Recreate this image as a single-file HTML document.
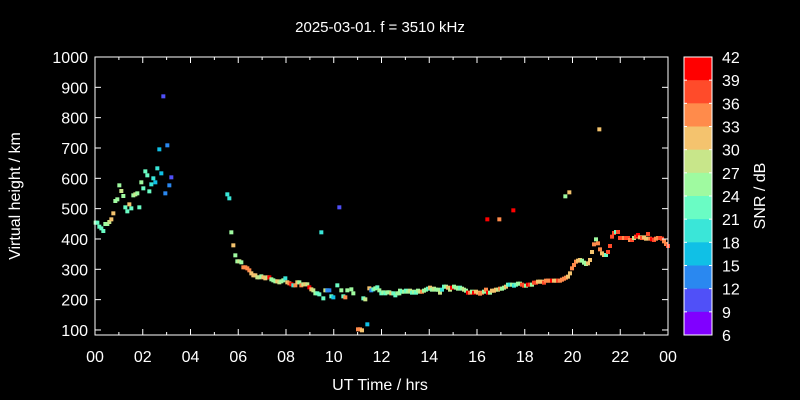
<!DOCTYPE html>
<html><head><meta charset="utf-8"><style>
html,body{margin:0;padding:0;background:#000;}
svg{display:block;font-family:"Liberation Sans",sans-serif;}
</style></head><body>
<svg id="s" width="800" height="400" xmlns="http://www.w3.org/2000/svg">
<rect width="800" height="400" fill="#000"/>
<text x="380" y="32" fill="#fff" font-size="15" text-anchor="middle">2025-03-01. f = 3510 kHz</text>
<text x="380" y="390" fill="#fff" font-size="16" text-anchor="middle">UT Time / hrs</text>
<text transform="translate(20,196) rotate(-90)" fill="#fff" font-size="16" text-anchor="middle">Virtual height / km</text>
<text transform="translate(765,196) rotate(-90)" fill="#fff" font-size="16" text-anchor="middle">SNR / dB</text>
<g id="pts"></g>
<g id="ax" stroke="#fff" stroke-width="1" fill="none"></g>
<g id="lbl" fill="#fff" font-size="16"></g>
</svg>
<script>
var NS="http://www.w3.org/2000/svg";
function el(t,a,p){var e=document.createElementNS(NS,t);for(var k in a)e.setAttribute(k,a[k]);document.getElementById(p).appendChild(e);return e;}
var L=95,R=668,T=57,B=335;
el('rect',{x:L,y:T,width:R-L,height:B-T},'ax');
for(var v=100;v<=1000;v+=100){var y=57+(1000-v)*0.3033;
 el('line',{x1:L,y1:y,x2:L+6,y2:y},'ax');el('line',{x1:R,y1:y,x2:R-6,y2:y},'ax');
 var t=el('text',{x:88,y:y+6,'text-anchor':'end'},'lbl');t.textContent=v;}
for(var h=0;h<=24;h++){var x=L+h*(R-L)/24;var len=(h%2==0)?6:3;
 el('line',{x1:x,y1:B,x2:x,y2:B-len},'ax');el('line',{x1:x,y1:T,x2:x,y2:T+len},'ax');
 if(h%2==0){var t=el('text',{x:x,y:362,'text-anchor':'middle'},'lbl');t.textContent=('0'+(h%24)).slice(-2);}}
var cols=['#ff0000','#ff4b2a','#ff8b4b','#f4c36e','#c8e68a','#9ffaa0','#6afcc4','#3ae6d8','#10c0e6','#2a88f0','#5050f8','#8000ff'];
var bh=(B-T)/12;
for(var i=0;i<12;i++){el('rect',{x:684,y:T+i*bh,width:28,height:bh+0.5,fill:cols[i],stroke:'none'},'pts');}
el('rect',{x:684,y:T,width:28,height:B-T},'ax');
for(var i=0;i<=12;i++){var y=T+i*bh;el('line',{x1:684,y1:y,x2:687,y2:y},'ax');el('line',{x1:712,y1:y,x2:709,y2:y},'ax');
 var t=el('text',{x:722,y:y+6},'lbl');t.textContent=42-3*i;}
var C={R:'#ff0000',r:'#ff4b2a',o:'#ff8b4b',b:'#f4c36e',y:'#c8e68a',g:'#9ffaa0',m:'#6afcc4',c:'#3ae6d8',s:'#10c0e6',B:'#2a88f0',p:'#5050f8',v:'#8000ff'};
var d1="287,548,g 292,548,m 298,560,m 304,565,m 310,573,m 316,552,g 322,552,g 328,546,y 334,538,b 340,520,b 346,483,g 352,478,g 358,436,g 364,453,y 370,468,g 376,502,m 382,514,m 388,493,b 394,505,m 400,466,g 406,463,y 412,460,g 418,502,m 424,427,g 430,445,m 436,394,m 442,406,m 448,454,m 454,433,c 460,415,c 466,427,s 472,385,c 478,328,s 484,400,s 490,169,p 496,460,B 502,316,B 508,436,B 514,412,p "+
"682,463,c 688,475,c 694,577,g 700,616,b 706,646,g 712,664,g 718,664,y 724,667,g 730,682,o 736,682,o 742,685,o 748,691,o 754,700,b 760,706,b 766,706,b 772,712,y 778,712,y 784,709,g 790,712,b 796,715,b 802,712,y 808,712,R 814,718,g 820,721,g 826,724,g 832,724,b 838,727,y 844,724,g 850,721,g 856,715,c 862,727,b 868,730,o 874,733,R 880,736,c 886,736,o 892,727,b 898,727,g 904,736,o 910,733,y 916,733,b 922,733,y 928,742,R 934,748,b 940,751,y 946,760,g 952,760,m 958,763,m 964,577,c 970,775,m 976,751,y 982,751,B 988,751,B 994,769,m 1000,772,s 1012,736,m 1018,502,p 1024,751,g 1030,769,m 1036,772,o 1042,751,g 1054,748,g 1060,760,g 1074,868,o 1080,868,o 1086,871,b 1090,775,m 1096,778,y 1102,853,s 1108,745,b 1114,751,B 1120,748,m 1126,745,g 1132,742,m 1138,751,g 1144,760,m 1150,757,g 1156,760,m 1162,757,g 1168,757,g 1174,760,b 1180,760,m 1186,766,m 1192,760,g 1198,760,g";
d1.split(' ').forEach(function(s){var a=s.split(',');var x=+a[0]/3,y=40+ +a[1]/3;el('rect',{x:x-2,y:y-2,width:4,height:4,fill:C[a[2]]},'pts');});
var d2="0,752 6,755 12,755 18,752 24,755 30,752 36,758 42,755 48,758 54,752 60,755 66,755 72,752 78,749 84,746 90,743 96,749 102,746 108,749 114,749 120,758 126,749 132,740 138,740 144,743 150,749 156,743 162,740 168,743 174,746 180,743 186,746 192,749 198,752 204,758 210,758 216,755 222,758 228,755 234,758 240,761 246,758 252,755 258,749 264,758 270,758 276,752 282,752 288,749 294,749 300,746 306,746 312,743 318,740 324,734 330,734 336,734 342,737 348,734 354,731 360,731 366,734 372,737 378,737 384,734 390,734 396,734 402,728 408,728 414,725 420,725 426,725 432,728 438,722 444,722 450,722 456,722 462,722 468,722 474,722 480,722 486,719 492,716 498,713 504,710 510,700 516,685 522,675 528,665 534,662 540,660 546,662 552,668 558,672 564,670 570,660 576,636 582,613 588,598 594,610 600,628 606,640 612,645 618,645 624,636 630,618 636,590 642,579 648,576 654,576 660,594 666,594 672,594 678,594 684,594 690,600 696,600 702,594 708,590 714,585 720,592 726,594 732,592 738,596 744,582 750,596 756,598 762,600 768,596 774,594 780,594 786,596 792,604 798,612 804,618";
var c2="gmgmgymgmgyoggmbgyRgycmgbyRRggmgyoRooRbbooroRobbbyoggbmcgcmgorroRrorrbbbroooRbbroooobbooobbgggbbbogoobbmrrrrmrrrorroryrRbrbbroRroo";
var tail="rroorRrrororrbrorroRrorrrrorRrooo";
d2.split(' ').forEach(function(s,i){var a=s.split(',');var x=400+ +a[0]/3,y=40+ +a[1]/3;
 var k=i<c2.length?c2[i]:tail[(i-c2.length)%tail.length];
 if(i<70&&"Rro".indexOf(k)>=0&&i%3==0)k='g';el('rect',{x:x-2,y:y-2,width:4,height:4,fill:C[k]},'pts');});
[[262,538,'R'],[298,538,'o'],[340,511,'R'],[496,469,'g'],[508,457,'b'],[598,268,'b']].forEach(function(a){var x=400+a[0]/3,y=40+a[1]/3;el('rect',{x:x-2,y:y-2,width:4,height:4,fill:C[a[2]]},'pts');});
</script>
</body></html>
